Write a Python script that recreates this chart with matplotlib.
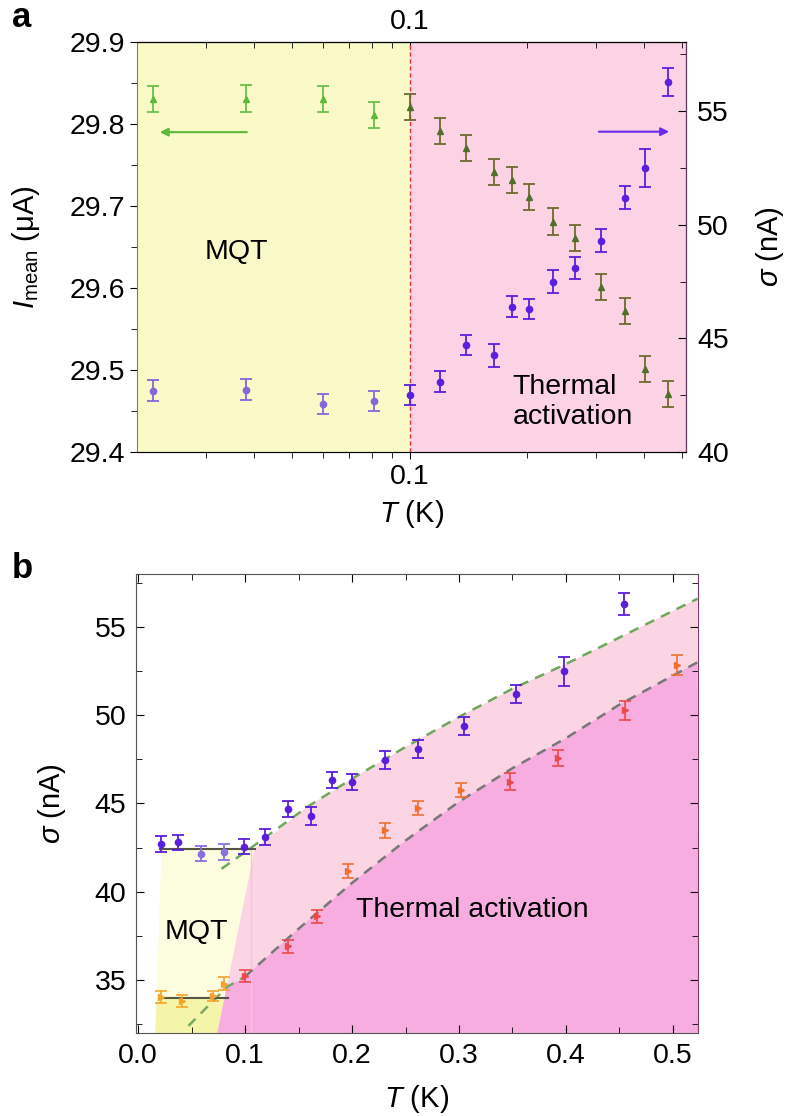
import numpy as np
import matplotlib
matplotlib.use('Agg')
import matplotlib.pyplot as plt
from matplotlib.ticker import FixedLocator, NullFormatter, MultipleLocator

plt.rcParams['font.family'] = ['Liberation Sans', 'DejaVu Sans']
plt.rcParams['mathtext.fontset'] = 'custom'
plt.rcParams['mathtext.rm'] = 'Liberation Sans'
plt.rcParams['mathtext.it'] = 'Liberation Sans:italic'

# ---- panel a data (log T axis) ----
T_a = [0.022, 0.038, 0.060, 0.081, 0.100, 0.120, 0.140, 0.165, 0.183, 0.202,
       0.233, 0.265, 0.310, 0.358, 0.403, 0.460]
I_mean = [29.830, 29.831, 29.830, 29.811, 29.821, 29.791, 29.771, 29.741, 29.732,
          29.711, 29.681, 29.661, 29.601, 29.572, 29.501, 29.471]
I_err = [0.016] * 16
sig_a = [42.7, 42.75, 42.1, 42.25, 42.5, 43.1, 44.7, 44.25, 46.4, 46.3, 47.5,
         48.1, 49.3, 51.2, 52.5, 56.3]
sig_a_err = [0.45, 0.45, 0.45, 0.45, 0.45, 0.45, 0.45, 0.5, 0.45, 0.45, 0.5,
             0.5, 0.5, 0.5, 0.82, 0.62]

# ---- panel b data ----
T_blue = [0.021, 0.037, 0.059, 0.080, 0.099, 0.119, 0.140, 0.162, 0.181, 0.200,
          0.231, 0.262, 0.305, 0.353, 0.398, 0.454]
sig_blue = [42.7, 42.8, 42.16, 42.25, 42.55, 43.1, 44.7, 44.28, 46.35, 46.23,
            47.45, 48.07, 49.4, 51.2, 52.5, 56.3]
sig_blue_err = [0.43, 0.43, 0.43, 0.43, 0.43, 0.45, 0.45, 0.5, 0.45, 0.45, 0.5,
                0.5, 0.5, 0.5, 0.82, 0.62]
T_org = [0.021, 0.041, 0.070, 0.080, 0.100, 0.140, 0.167, 0.196, 0.231, 0.262,
         0.302, 0.348, 0.393, 0.455, 0.504]
sig_org = [34.02, 33.8, 34.1, 34.8, 35.24, 36.9, 38.6, 41.16, 43.47, 44.74,
           45.78, 46.24, 47.6, 50.27, 52.85]
sig_org_err = [0.35, 0.35, 0.3, 0.35, 0.35, 0.35, 0.35, 0.4, 0.4, 0.4, 0.4,
               0.5, 0.45, 0.55, 0.55]

# fitted curves
T_fit_hi = [0.078, 0.107, 0.158, 0.200, 0.250, 0.300, 0.350, 0.400, 0.450, 0.523]
sig_fit_hi = [41.3, 42.55, 44.8, 46.4, 48.2, 49.9, 51.5, 52.9, 54.4, 56.6]
T_fit_lo = [0.047, 0.083, 0.100, 0.150, 0.200, 0.250, 0.300, 0.350, 0.400, 0.450, 0.523]
sig_fit_lo = [32.4, 34.6, 35.2, 37.9, 40.5, 42.9, 45.1, 47.0, 48.7, 50.6, 53.0]

# MQT plateaus
T_plat_hi, sig_plat_hi = [0.0206, 0.109], 42.44
T_plat_lo, sig_plat_lo = [0.020, 0.084], 33.98

green_c = ['#5DB83B'] * 4 + ['#4F6F2A'] * 12
green_e = ['#6CC04A'] * 4 + ['#6E6A2E'] * 12
blue_a_c = ['#8268DA'] * 4 + ['#5B1FE0'] * 12
blue_b_c = ['#5A1EDB', '#5A1EDB', '#8A6FE0', '#8A6FE0'] + ['#5A1EDB'] * 12
org_c = ['#F5A52A', '#F5A52A', '#F5A030', '#F5A030', '#EE4A4A', '#EE4A4A', '#EE4A4A',
         '#F07030', '#F07030', '#F07030', '#F07030', '#EE4A4A', '#EE4A4A', '#EE4A4A',
         '#F07030']

FS = 20.5
LFS = 21
fig = plt.figure(figsize=(7.86, 11.16), dpi=100)

# ================= panel a =================
ax1 = fig.add_axes([0.1743, 0.595, 0.6985, 0.3674])
ax1.set_xscale('log')
ax1.set_xlim(0.02, 0.512)
ax1.set_ylim(29.4, 29.9)
ax1.axvspan(0.02, 0.1, color='#FAFAC8', lw=0, zorder=0)
ax1.axvspan(0.1, 0.512, color='#FBD3E4', lw=0, zorder=0)
ax1.axvline(0.1, color='#E03030', lw=1.0, ls=(0, (3, 2)), zorder=1)

for t, v, c, ec in zip(T_a, I_mean, green_c, green_e):
    ax1.errorbar(t, v, yerr=0.016, fmt='^', ms=5, color=c, ecolor=ec,
                 elinewidth=1.3, capsize=4, capthick=1.3, zorder=3)

ax1.annotate('', xy=(0.0225, 29.79), xytext=(0.0389, 29.79),
             arrowprops=dict(arrowstyle='-|>', color='#5DB83B', lw=1.5,
                             mutation_scale=12))
ax1.text(0.0359, 29.644, 'MQT', fontsize=FS, ha='center', va='center')

ax1.xaxis.set_major_locator(FixedLocator([0.1]))
ax1.xaxis.set_minor_locator(FixedLocator([0.03, 0.04, 0.05, 0.06, 0.07, 0.08, 0.09,
                                          0.2, 0.3, 0.4, 0.5]))
ax1.xaxis.set_major_formatter(lambda x, pos: '0.1')
ax1.xaxis.set_minor_formatter(NullFormatter())
ax1.yaxis.set_major_locator(MultipleLocator(0.1))
ax1.yaxis.set_minor_locator(MultipleLocator(0.05))
ax1.tick_params(axis='both', which='major', labelsize=FS, direction='out', length=5)
ax1.tick_params(axis='both', which='minor', direction='out', length=4)
ax1.tick_params(axis='y', right=False)
ax1.spines['left'].set_color('#80803F')
ax1.spines['bottom'].set_color('#555555')
ax1.spines['top'].set_color('#555555')
ax1.set_xlabel('$T$ (K)', fontsize=LFS, labelpad=6)
ax1.set_ylabel(r'$I_{\rm mean}$ (μA)', fontsize=LFS, labelpad=20)

sec = ax1.secondary_xaxis('top')
sec.xaxis.set_major_locator(FixedLocator([0.1]))
sec.xaxis.set_minor_locator(FixedLocator([0.03, 0.04, 0.05, 0.06, 0.07, 0.08, 0.09,
                                          0.2, 0.3, 0.4, 0.5]))
sec.xaxis.set_major_formatter(lambda x, pos: '0.1')
sec.xaxis.set_minor_formatter(NullFormatter())
sec.tick_params(which='major', direction='in', length=5, labelsize=FS, pad=5)
sec.tick_params(which='minor', direction='in', length=4)

ax2 = ax1.twinx()
ax2.set_ylim(40, 58.05)
for t, v, e, c in zip(T_a, sig_a, sig_a_err, blue_a_c):
    ax2.errorbar(t, v, yerr=e, fmt='o', ms=4.5, color=c, ecolor=c,
                 elinewidth=1.3, capsize=4, capthick=1.3, zorder=3)
ax2.annotate('', xy=(0.471, 54.1), xytext=(0.301, 54.1),
             arrowprops=dict(arrowstyle='-|>', color='#6A2AE8', lw=1.5,
                             mutation_scale=12))
ax2.text(0.1836, 42.2, 'Thermal\nactivation', fontsize=FS, ha='left', va='center',
         linespacing=1.2)
ax2.yaxis.set_major_locator(MultipleLocator(5))
ax2.yaxis.set_minor_locator(MultipleLocator(2.5))
ax2.tick_params(axis='y', which='major', labelsize=FS, direction='in', length=6, pad=8)
ax2.tick_params(axis='y', which='minor', direction='in', length=4)
ax2.spines['right'].set_color('#5A3A5A')
ax2.spines['left'].set_visible(False)
ax2.set_ylabel(r'$\sigma$ (nA)', fontsize=LFS, labelpad=18)

# ================= panel b =================
ax3 = fig.add_axes([0.1730, 0.0744, 0.7150, 0.4113])
x0, x1 = -0.002, 0.5234
y0, y1 = 32, 58
ax3.set_xlim(x0, x1)
ax3.set_ylim(y0, y1)

# MQT regions (yellow)
ax3.fill([0.022, T_plat_hi[1], 0.074, 0.016], [sig_plat_hi, sig_plat_hi, y0, y0],
         color='#FCFCDE', lw=0, zorder=0)
ax3.fill([0.0175, 0.0807, 0.074, 0.016], [sig_plat_lo, sig_plat_lo, y0, y0],
         color='#F5F5AA', lw=0, zorder=0)
# thermal activation (light pink) between slanted edge and upper fit
hi_x = [T_plat_hi[1]] + [t for t in T_fit_hi if t > T_plat_hi[1]] + [x1, 0.074]
hi_y = [sig_plat_hi] + [s for t, s in zip(T_fit_hi, sig_fit_hi) if t > T_plat_hi[1]] + [y0, y0]
ax3.fill(hi_x, hi_y, color='#FCD5E5', lw=0, zorder=0)
ax3.plot([0.106, 0.106], [y0, sig_plat_hi], color='#F6C2D8', lw=1, zorder=0.5)
# thermal activation (dark pink) below lower fit
lo_x = [0.074] + [t for t in T_fit_lo if t >= 0.083] + [x1]
lo_y = [y0] + [s for t, s in zip(T_fit_lo, sig_fit_lo) if t >= 0.083] + [y0]
ax3.fill(lo_x, lo_y, color='#F7ADDF', lw=0, zorder=0)

# fit curves
ax3.plot(T_fit_hi, sig_fit_hi, color='#6FA85A', lw=1.8, ls=(0, (4, 3)), zorder=2)
ax3.plot(T_fit_lo[:3], sig_fit_lo[:3], color='#79A862', lw=1.8, ls=(0, (4, 3)), zorder=2)
ax3.plot(T_fit_lo[2:], sig_fit_lo[2:], color='#777777', lw=1.8, ls=(0, (4, 3)), zorder=2)
ax3.plot(T_plat_hi, [sig_plat_hi] * 2, color='#555545', lw=1.5, zorder=2)
ax3.plot(T_plat_lo, [sig_plat_lo] * 2, color='#555545', lw=1.5, zorder=2)

for t, v, e, c in zip(T_blue, sig_blue, sig_blue_err, blue_b_c):
    ax3.errorbar(t, v, yerr=e, fmt='o', ms=4.5, color=c, ecolor=c,
                 elinewidth=1.3, capsize=4.5, capthick=1.3, zorder=3)
for t, v, e, c in zip(T_org, sig_org, sig_org_err, org_c):
    ax3.errorbar(t, v, yerr=e, fmt='>', ms=4, color=c, ecolor=c,
                 elinewidth=1.2, capsize=4, capthick=1.2, zorder=3)

ax3.text(0.054, 37.7, 'MQT', fontsize=FS, ha='center', va='center')
ax3.text(0.204, 38.98, 'Thermal activation', fontsize=FS, ha='left', va='center')

ax3.xaxis.set_major_locator(MultipleLocator(0.1))
ax3.xaxis.set_minor_locator(MultipleLocator(0.05))
ax3.yaxis.set_major_locator(MultipleLocator(5))
ax3.yaxis.set_minor_locator(MultipleLocator(2.5))
ax3.xaxis.set_major_formatter(lambda x, pos: f'{x:.1f}')
ax3.tick_params(axis='both', which='major', labelsize=FS, direction='in', length=6,
                top=True, right=True, pad=7)
ax3.tick_params(axis='both', which='minor', direction='in', length=4,
                top=True, right=True)
for s in ['left', 'bottom', 'top']:
    ax3.spines[s].set_color('#555555')
ax3.spines['right'].set_color('#7A3A6A')
ax3.set_xlabel('$T$ (K)', fontsize=LFS, labelpad=10)
ax3.set_ylabel(r'$\sigma$ (nA)', fontsize=LFS, labelpad=19)

fig.text(0.015, 0.984, 'a', fontsize=25, fontweight='bold', va='center')
fig.text(0.015, 0.491, 'b', fontsize=25, fontweight='bold', va='center')

fig.savefig('out.png', dpi=100)
